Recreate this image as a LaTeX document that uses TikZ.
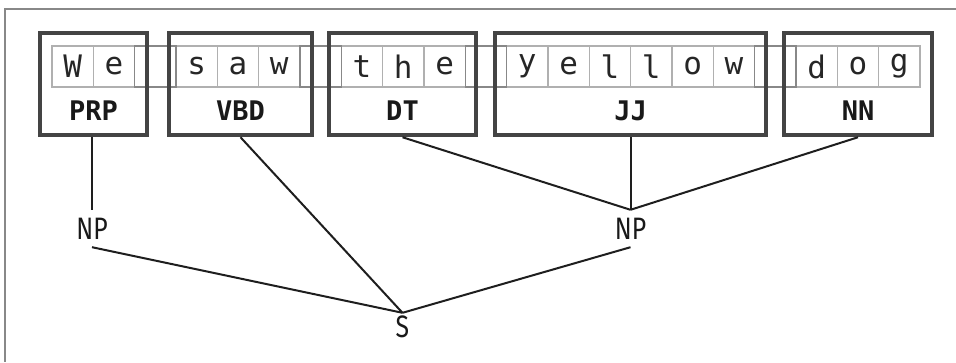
\documentclass[tikz,border=0pt]{standalone}
\usepackage{fontspec}
\setmainfont{Fira Sans}
\newfontfamily\cellfont{DejaVu Sans Mono}
\newfontfamily\treefont[FakeStretch=0.8]{Fira Sans}
\usepackage{tikz}
\usetikzlibrary{positioning, calc}
\definecolor{boxgray}{RGB}{68,68,68}
\definecolor{cellgray}{RGB}{176,176,176}
\definecolor{gapgray}{RGB}{136,136,136}
\definecolor{framegray}{RGB}{136,136,136}
\definecolor{treeblack}{RGB}{30,30,30}
\tikzset{
  cell/.style={rectangle, draw=cellgray, line width=1.4pt,
    minimum width=41.33pt, minimum height=41pt, inner sep=0pt,
    font=\cellfont\fontsize{31}{33}\selectfont, text=black!85},
  gapcell/.style={cell, draw=gapgray},
  tagbox/.style={rectangle, draw=boxgray, line width=4.5pt,
    minimum height=102pt, inner sep=0pt},
  taglabel/.style={font=\cellfont\bfseries\fontsize{27}{29}\selectfont,
    inner sep=0pt, text=black!90},
  phrase/.style={font=\treefont\fontsize{31}{33}\selectfont, inner sep=0pt,
    text=black!90},
  branch/.style={line width=2pt, color=treeblack},
  frame/.style={line width=1.5pt, color=framegray}
}

\begin{document}
\begin{tikzpicture}[x=1pt, y=-1pt]
  \useasboundingbox (0,0) rectangle (956,362);
  \draw[frame] (956,9) -- (5,9) -- (5,362);
  % character cells
  \foreach \ch [count=\i from 0] in {W,e,{},s,a,w,{},t,h,e,{},y,e,l,l,o,w,{},d,o,g}
    \node[cell] (c\i) at ({52+41.33*\i+20.67},66.5) {\ch};
  % spaces between the words
  \foreach \i in {2,6,10,17}
    \node[gapcell] (g\i) at ({52+41.33*\i+20.67},66.5) {};
  % tag boxes
  \node[tagbox, minimum width=107pt] (prp) at (93.5,84) {};
  \node[tagbox, minimum width=143pt] (vbd) at (240.5,84) {};
  \node[tagbox, minimum width=147pt] (dt)  at (402.5,84) {};
  \node[tagbox, minimum width=271pt] (jj)  at (630.5,84) {};
  \node[tagbox, minimum width=148pt] (nn)  at (858,84) {};
  \node[taglabel] (prplbl) at (93.5,111) {PRP};
  \node[taglabel] (vbdlbl) at (240.5,111) {VBD};
  \node[taglabel] (dtlbl)  at (402.5,111) {DT};
  \node[taglabel] (jjlbl)  at (630.5,111) {JJ};
  \node[taglabel] (nnlbl)  at (858,111) {NN};
  % parse tree
  \node[phrase, minimum height=37pt] (np1) at (92,228.5) {NP};
  \node[phrase, minimum height=37pt] (np2) at (630.5,228.5) {NP};
  \node[phrase, minimum height=28pt] (s)   at (402.5,327) {S};
  \draw[branch] (prp.south -| np1) -- (np1.north);
  \draw[branch] (dt.south) -- (np2.north);
  \draw[branch] (jj.south) -- (np2.north);
  \draw[branch] (nn.south) -- (np2.north);
  \draw[branch] (vbd.south) -- (s.north);
  \draw[branch] (np1.south) -- (s.north);
  \draw[branch] (np2.south) -- (s.north);
\end{tikzpicture}
\end{document}
